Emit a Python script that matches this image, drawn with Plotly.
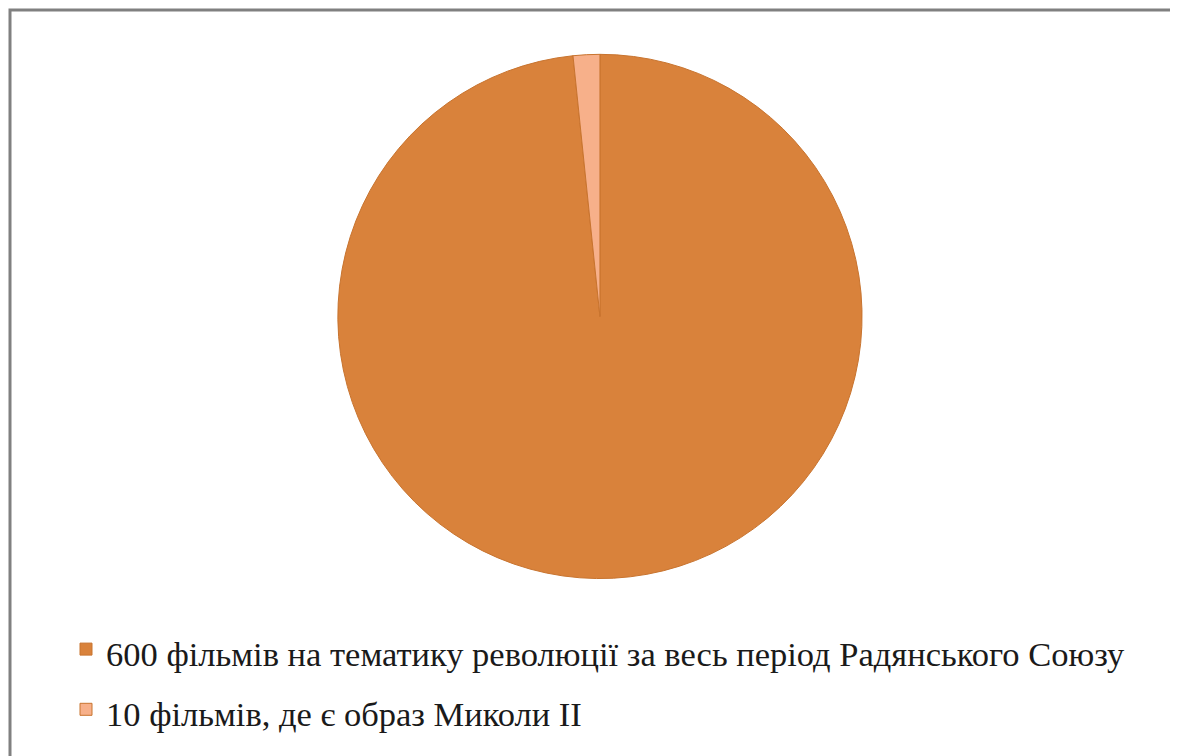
import plotly.graph_objects as go

labels = [
    "600 фільмів на тематику революції за весь період Радянського Союзу",
    "10 фільмів, де є образ Миколи II",
]
values = [600, 10]
colors = ["#D9823B", "#F7B08A"]

W, H = 1178, 756

legend_labels = [
    '<span style="font-size:34.5px">' + t + "</span>" for t in labels
]

fig = go.Figure(
    go.Pie(
        labels=legend_labels,
        values=values,
        sort=False,
        direction="clockwise",
        rotation=0,
        textinfo="none",
        hovertext=labels,
        hoverinfo="text+value+percent",
        marker=dict(colors=colors, line=dict(color="#C8742F", width=1)),
        domain=dict(x=[0.280, 0.725], y=[0.244, 0.940]),
    )
)

fig.update_layout(
    width=W,
    height=H,
    margin=dict(l=0, r=0, t=0, b=0),
    paper_bgcolor="white",
    plot_bgcolor="white",
    showlegend=True,
    legend=dict(
        x=58 / W,
        y=1 - 606 / H,
        xanchor="left",
        yanchor="top",
        font=dict(family="'Liberation Serif', 'Times New Roman', Times, serif", size=44, color="#1a1a1a"),
        itemwidth=30,
        bgcolor="rgba(0,0,0,0)",
    ),
    shapes=[
        dict(
            type="rect",
            xref="paper",
            yref="paper",
            x0=2 / W,
            x1=1.05,
            y0=-0.05,
            y1=1 - 2 / H,
            line=dict(color="#808080", width=3),
            fillcolor="rgba(0,0,0,0)",
            layer="above",
        )
    ],
)

fig.write_html("out.html")
